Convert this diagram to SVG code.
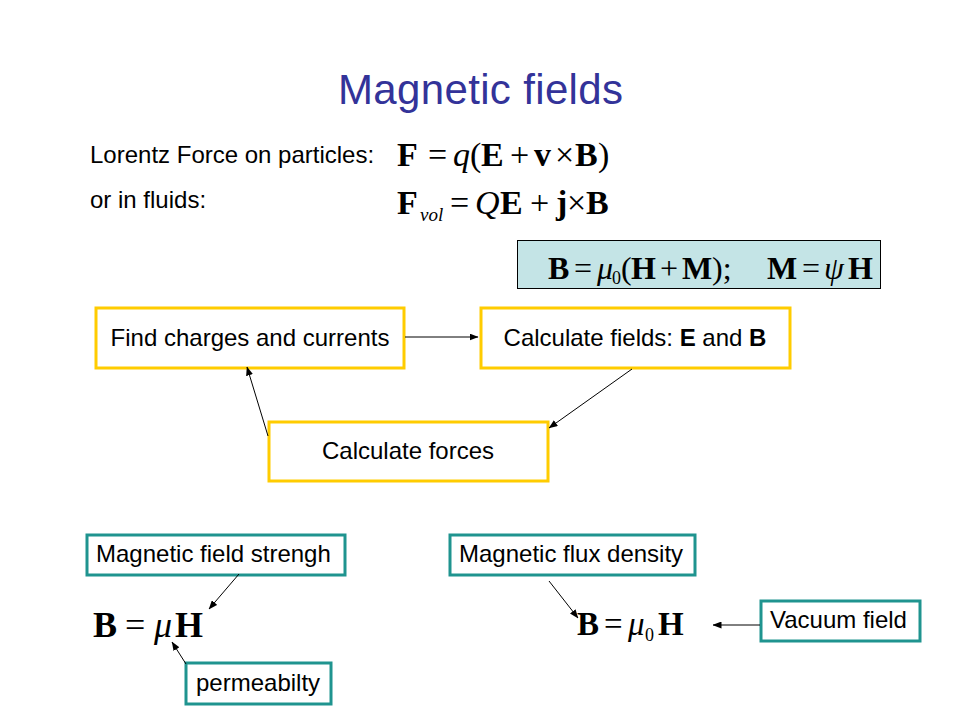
<svg xmlns="http://www.w3.org/2000/svg" width="960" height="720" viewBox="0 0 960 720">
<defs>
<style>
.t{font-family:"Liberation Sans",Arial,sans-serif;font-size:24px;fill:#000}
.title{font-family:"Liberation Sans",Arial,sans-serif;font-size:42px;fill:#333399}
.m{font-family:"Liberation Serif","Times New Roman",serif;fill:#000}
.b{font-weight:bold}
.i{font-style:italic}
.yb{fill:#fff;stroke:#FFCC00;stroke-width:3}
.tb{fill:#fff;stroke:#1F948F;stroke-width:3}
.ln{stroke:#000;stroke-width:1;fill:none;marker-end:url(#ah)}
</style>
<marker id="ah" markerWidth="9" markerHeight="7" refX="8.5" refY="3.5" orient="auto" markerUnits="userSpaceOnUse">
<path d="M0,0 L9,3.5 L0,7 Z" fill="#000"/>
</marker>
</defs>
<rect width="960" height="720" fill="#fff"/>
<text class="title" x="338" y="104" textLength="285">Magnetic fields</text>
<text class="t" x="90" y="163">Lorentz Force on particles:</text>
<text class="t" x="90" y="208">or in fluids:</text>

<g id="eq-lorentz">
<text class="m" font-size="34" y="166"><tspan class="b" x="397">F</tspan><tspan x="428">=</tspan><tspan class="i" x="453">q</tspan><tspan x="470">(</tspan><tspan class="b" x="481">E</tspan><tspan x="510">+</tspan><tspan class="b" x="534">v</tspan><tspan x="555">×</tspan><tspan class="b" x="575">B</tspan><tspan x="598">)</tspan></text>
</g>
<g id="eq-fluid">
<text class="m" font-size="34" y="214"><tspan class="b" x="397">F</tspan><tspan class="i" x="420" y="221" font-size="19">vol</tspan><tspan x="450" y="214">=</tspan><tspan class="i" x="475">Q</tspan><tspan class="b" x="500">E</tspan><tspan x="530">+</tspan><tspan class="b" x="556">j</tspan><tspan x="567">×</tspan><tspan class="b" x="586">B</tspan></text>
</g>
<g id="eq-box">
<rect x="517.5" y="240.5" width="363" height="48" fill="#C4E4E6" stroke="#000" stroke-width="1"/>
<text class="m" font-size="32" y="279"><tspan class="b" x="548">B</tspan><tspan x="574">=</tspan><tspan class="i" x="597">μ</tspan><tspan x="612" y="284" font-size="18">0</tspan><tspan x="621" y="279">(</tspan><tspan class="b" x="631">H</tspan><tspan x="660">+</tspan><tspan class="b" x="682">M</tspan><tspan x="712">);</tspan><tspan class="b" x="767">M</tspan><tspan x="802">=</tspan><tspan class="i" x="824">ψ</tspan><tspan class="b" x="848">H</tspan></text>
</g>

<g id="node-find">
<rect class="yb" x="96" y="308" width="308" height="60"/>
<text class="t" x="250" y="346" text-anchor="middle">Find charges and currents</text>
</g>
<g id="node-fields">
<rect class="yb" x="481" y="308" width="309" height="60"/>
<text class="t" x="635" y="346" text-anchor="middle">Calculate fields: <tspan font-weight="bold">E</tspan> and <tspan font-weight="bold">B</tspan></text>
</g>
<g id="node-forces">
<rect class="yb" x="269" y="422" width="279" height="59"/>
<text class="t" x="408" y="459" text-anchor="middle">Calculate forces</text>
</g>

<g id="node-strength">
<rect class="tb" x="87" y="535" width="258" height="40"/>
<text class="t" x="96" y="562">Magnetic field strengh</text>
</g>
<g id="node-flux">
<rect class="tb" x="450" y="535" width="245" height="40"/>
<text class="t" x="459" y="562">Magnetic flux density</text>
</g>
<g id="node-perm">
<rect class="tb" x="186" y="663" width="145" height="41"/>
<text class="t" x="196" y="691">permeabilty</text>
</g>
<g id="node-vacuum">
<rect class="tb" x="761" y="601" width="159" height="40"/>
<text class="t" x="770" y="628">Vacuum field</text>
</g>

<g id="eq-bmuh">
<text class="m" font-size="36" y="637"><tspan class="b" x="93">B</tspan><tspan x="125">=</tspan><tspan class="i" x="154">μ</tspan><tspan class="b" x="175">H</tspan></text>
</g>
<g id="eq-bmu0h">
<text class="m" font-size="33" y="635"><tspan class="b" x="577">B</tspan><tspan x="604">=</tspan><tspan class="i" x="628">μ</tspan><tspan x="645" y="641" font-size="18">0</tspan><tspan class="b" x="658" y="635">H</tspan></text>
</g>

<g id="connectors">
<line class="ln" x1="405" y1="337" x2="478" y2="337"/>
<line class="ln" x1="632" y1="369" x2="549" y2="428"/>
<line class="ln" x1="268" y1="436" x2="247" y2="367"/>
<line class="ln" x1="239" y1="574" x2="209" y2="609"/>
<line class="ln" x1="186" y1="664" x2="172" y2="642"/>
<line class="ln" x1="549" y1="581" x2="578" y2="618"/>
<line class="ln" x1="760" y1="625" x2="713" y2="625"/>
</g>
</svg>
